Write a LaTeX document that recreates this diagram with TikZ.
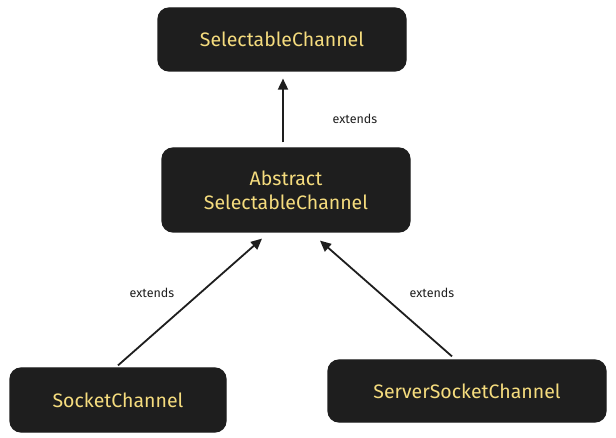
\documentclass[tikz,border=0pt]{standalone}
\usepackage{fontspec}
\setmainfont{Fira Sans}
\usetikzlibrary{arrows.meta}

\definecolor{fond}{HTML}{1E1E1E}
\definecolor{texte}{HTML}{F5DC7E}

\tikzset{
    classe/.style={draw=fond, line width=1.2pt, fill=fond, rounded corners=11pt,
        text=texte, font=\fontsize{19.5}{24}\selectfont, align=center, inner sep=0pt},
    herite/.style={draw=fond, line width=1.8pt, -{Triangle[length=11pt,width=10pt]}},
    etiquette/.style={text=fond, font=\fontsize{12.5}{14}\selectfont}
}

\begin{document}
\begin{tikzpicture}[x=1pt,y=-1pt]
    \useasboundingbox (0,0) rectangle (616,438);

    % Classes
    \node[classe, minimum width=248pt, minimum height=63pt] (selectable) at (282,39.5) {SelectableChannel};
    \node[classe, minimum width=248pt, minimum height=84pt] (abstract) at (286,190) {Abstract\\SelectableChannel};
    \node[classe, minimum width=216pt, minimum height=64pt] (socket) at (118,400) {SocketChannel};
    \node[classe, minimum width=278pt, minimum height=62pt] (server) at (467,391) {ServerSocketChannel};

    % Heritage
    \draw[herite] ([shift={(-3,-5)}]abstract.north) -- ([shift={(1,7)}]selectable.south);
    \draw[herite] ([shift={(0,-2)}]socket.north) -- ([shift={(-24,6)}]abstract.south);
    \draw[herite] ([shift={(-15,-3)}]server.north) -- ([shift={(34,8)}]abstract.south);

    % Etiquettes
    \node[etiquette] (ext1) at (355,119) {extends};
    \node[etiquette] (ext2) at (152,293) {extends};
    \node[etiquette] (ext3) at (432,293) {extends};
\end{tikzpicture}
\end{document}
